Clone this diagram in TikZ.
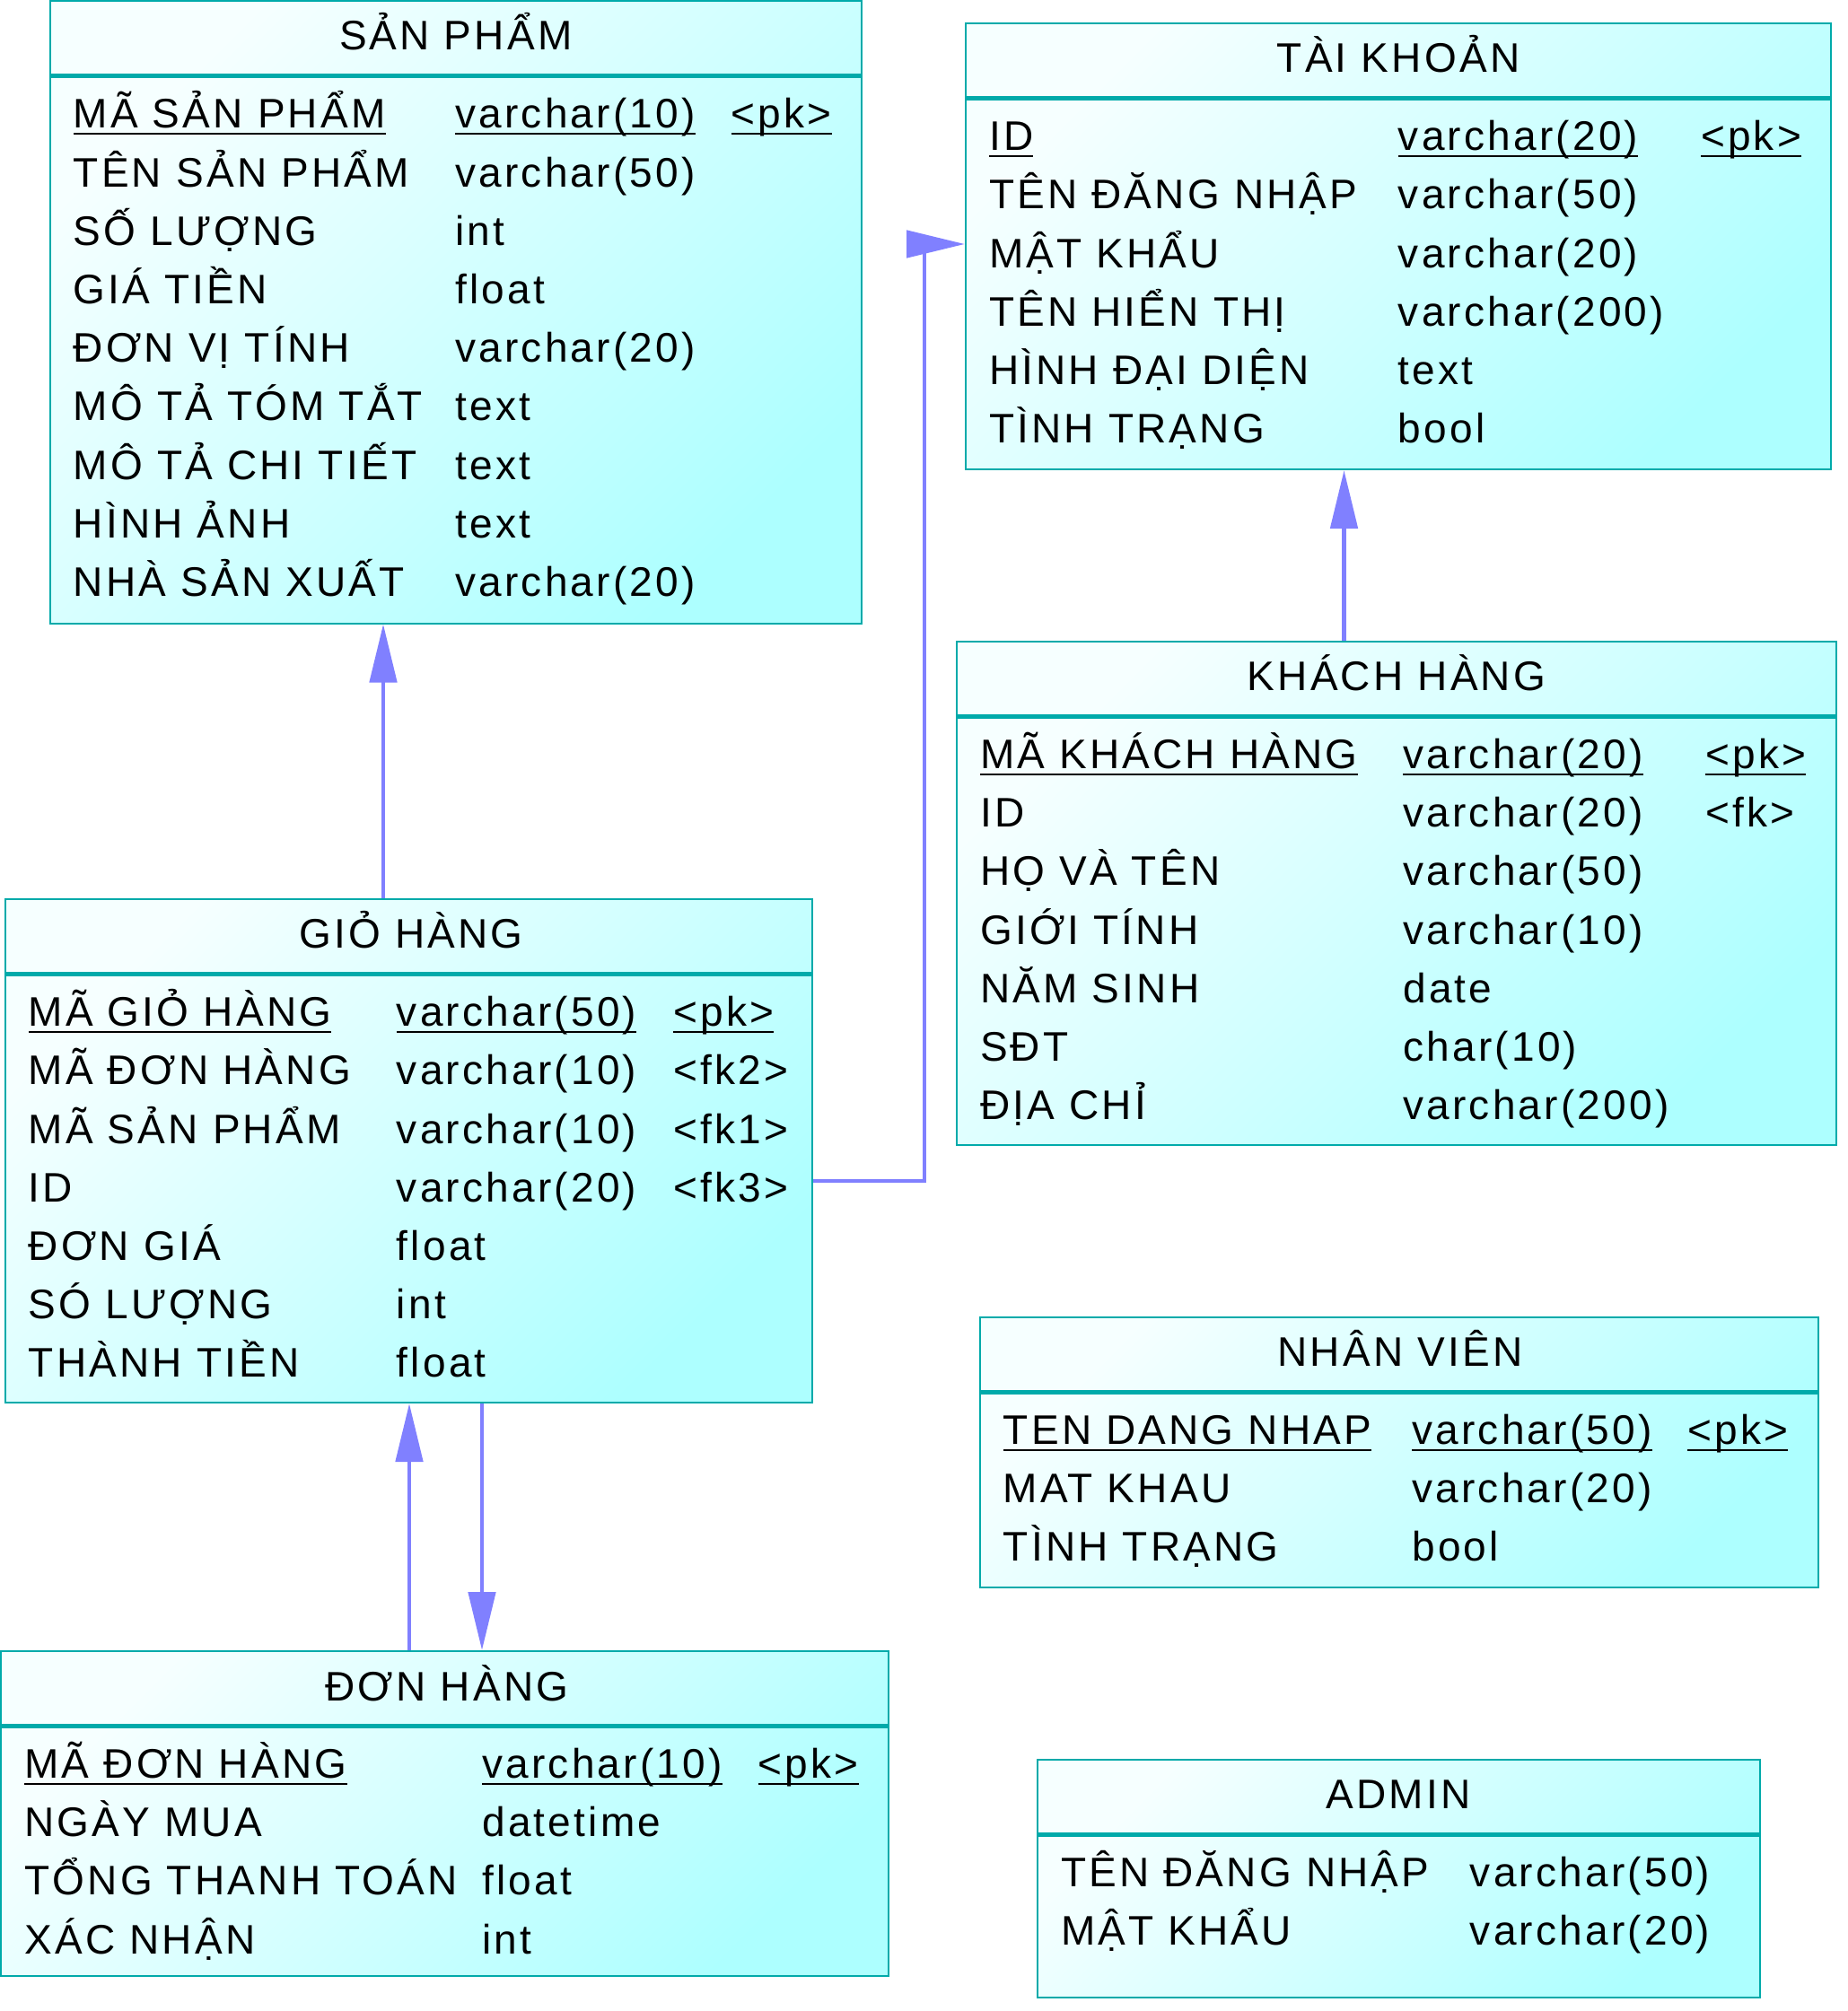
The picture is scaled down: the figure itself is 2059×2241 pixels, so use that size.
\documentclass[tikz,border=0pt]{standalone}
\usepackage{fontspec}
\setmainfont{Liberation Sans}[LetterSpace=7]
\usetikzlibrary{arrows.meta,fit,calc}
\definecolor{relc}{HTML}{8080FF}
\definecolor{bordc}{HTML}{00AAAA}
\definecolor{tlc}{HTML}{F6FFFF}
\definecolor{brc}{HTML}{ADFFFF}
\newcommand\pkul[1]{\setbox0\hbox{#1}\rlap{\rule[-3.5pt]{\wd0}{1pt}}\box0}
% name, baseline y, x1, x2, x3, col1, col2, col3
\newcommand\erow[8]{\node[fld] (#1n) at (#3,#2) {#6};\node[fld] (#1t) at (#4,#2) {#7};\node[fld] (#1k) at (#5,#2) {#8};}
% name, baseline y, x1, x2, col1, col2
\newcommand\frow[6]{\node[fld] (#1n) at (#3,#2) {#5};\node[fld] (#1t) at (#4,#2) {#6};}
\tikzset{
  tbl/.style={draw=bordc, line width=1pt, inner sep=0pt, top color=tlc, bottom color=brc, shading angle=45},
  divline/.style={draw=bordc, line width=2.5pt},
  fld/.style={anchor=base west, inner sep=0pt, font=\fontsize{23}{27}\selectfont},
  ttl/.style={anchor=base, inner sep=0pt, font=\fontsize{23}{27}\selectfont},
  rel/.style={draw=relc, line width=2.4pt},
  reltip/.style={draw=relc, line width=2.4pt, -{Triangle[length=32.5pt,width=15pt]}}
}
\begin{document}
\begin{tikzpicture}[x=0.5pt,y=-0.5pt]
\useasboundingbox (0,0) rectangle (2059,2241);
\fill[white] (0,0) rectangle (2059,2241);

% ---------- SAN PHAM ----------
\node[tbl, fit={(55.7,1) (960,694.5)}] (sp) {};
\draw[divline] (55.7,84.5) -- (960,84.5);
\node[ttl] (spT) at (507.8,56) {SẢN PHẨM};
\erow{sp1}{143}{81.4}{507}{814.5}{\pkul{MÃ SẢN PHẨM}}{\pkul{varchar(10)}}{\pkul{<pk>}}
\frow{sp2}{208.2}{81.4}{507}{TÊN SẢN PHẨM}{varchar(50)}
\frow{sp3}{273.4}{81.4}{507}{SỐ LƯỢNG}{int}
\frow{sp4}{338.6}{81.4}{507}{GIÁ TIỀN}{float}
\frow{sp5}{403.8}{81.4}{507}{ĐƠN VỊ TÍNH}{varchar(20)}
\frow{sp6}{469}{81.4}{507}{MÔ TẢ TÓM TẮT}{text}
\frow{sp7}{534.2}{81.4}{507}{MÔ TẢ CHI TIẾT}{text}
\frow{sp8}{599.4}{81.4}{507}{HÌNH ẢNH}{text}
\frow{sp9}{664.6}{81.4}{507}{NHÀ SẢN XUẤT}{varchar(20)}

% ---------- TAI KHOAN ----------
\node[tbl, fit={(1076,25.7) (2040,523)}] (tk) {};
\draw[divline] (1076,109.2) -- (2040,109.2);
\node[ttl] (tkT) at (1558,80.7) {TÀI KHOẢN};
\erow{tk1}{167.7}{1101.7}{1557.5}{1894.7}{\pkul{ID}}{\pkul{varchar(20)}}{\pkul{<pk>}}
\frow{tk2}{232.9}{1101.7}{1557.5}{TÊN ĐĂNG NHẬP}{varchar(50)}
\frow{tk3}{298.1}{1101.7}{1557.5}{MẬT KHẨU}{varchar(20)}
\frow{tk4}{363.3}{1101.7}{1557.5}{TÊN HIỂN THỊ}{varchar(200)}
\frow{tk5}{428.5}{1101.7}{1557.5}{HÌNH ĐẠI DIỆN}{text}
\frow{tk6}{493.7}{1101.7}{1557.5}{TÌNH TRẠNG}{bool}

% ---------- KHACH HANG ----------
\node[tbl, fit={(1066,714.5) (2046,1276)}] (kh) {};
\draw[divline] (1066,798) -- (2046,798);
\node[ttl] (khT) at (1556,769.5) {KHÁCH HÀNG};
\erow{kh1}{856.5}{1091.7}{1563}{1900}{\pkul{MÃ KHÁCH HÀNG}}{\pkul{varchar(20)}}{\pkul{<pk>}}
\erow{kh2}{921.7}{1091.7}{1563}{1900}{ID}{varchar(20)}{<fk>}
\frow{kh3}{986.9}{1091.7}{1563}{HỌ VÀ TÊN}{varchar(50)}
\frow{kh4}{1052.1}{1091.7}{1563}{GIỚI TÍNH}{varchar(10)}
\frow{kh5}{1117.3}{1091.7}{1563}{NĂM SINH}{date}
\frow{kh6}{1182.5}{1091.7}{1563}{SĐT}{char(10)}
\frow{kh7}{1247.7}{1091.7}{1563}{ĐỊA CHỈ}{varchar(200)}

% ---------- GIO HANG ----------
\node[tbl, fit={(5.7,1001.7) (904.5,1563)}] (gh) {};
\draw[divline] (5.7,1085.2) -- (904.5,1085.2);
\node[ttl] (ghT) at (458,1056.7) {GIỎ HÀNG};
\erow{gh1}{1143.7}{31.4}{441.5}{750}{\pkul{MÃ GIỎ HÀNG}}{\pkul{varchar(50)}}{\pkul{<pk>}}
\erow{gh2}{1208.9}{31.4}{441.5}{750}{MÃ ĐƠN HÀNG}{varchar(10)}{<fk2>}
\erow{gh3}{1274.1}{31.4}{441.5}{750}{MÃ SẢN PHẨM}{varchar(10)}{<fk1>}
\erow{gh4}{1339.3}{31.4}{441.5}{750}{ID}{varchar(20)}{<fk3>}
\frow{gh5}{1404.5}{31.4}{441.5}{ĐƠN GIÁ}{float}
\frow{gh6}{1469.7}{31.4}{441.5}{SÓ LƯỢNG}{int}
\frow{gh7}{1534.9}{31.4}{441.5}{THÀNH TIỀN}{float}

% ---------- DON HANG ----------
\node[tbl, fit={(1.4,1840) (990,2202)}] (dh) {};
\draw[divline] (1.4,1923.5) -- (990,1923.5);
\node[ttl] (dhT) at (498,1895) {ĐƠN HÀNG};
\erow{dh1}{1981.5}{27}{537}{844.5}{\pkul{MÃ ĐƠN HÀNG}}{\pkul{varchar(10)}}{\pkul{<pk>}}
\frow{dh2}{2046.7}{27}{537}{NGÀY MUA}{datetime}
\frow{dh3}{2111.9}{27}{537}{TỔNG THANH TOÁN}{float}
\frow{dh4}{2177.1}{27}{537}{XÁC NHẬN}{int}

% ---------- NHAN VIEN ----------
\node[tbl, fit={(1091.7,1467.5) (2026,1769)}] (nv) {};
\draw[divline] (1091.7,1551) -- (2026,1551);
\node[ttl] (nvT) at (1560,1522.5) {NHÂN VIÊN};
\erow{nv1}{1609.5}{1117.4}{1573}{1880}{\pkul{TEN DANG NHAP}}{\pkul{varchar(50)}}{\pkul{<pk>}}
\frow{nv2}{1674.7}{1117.4}{1573}{MAT KHAU}{varchar(20)}
\frow{nv3}{1739.9}{1117.4}{1573}{TÌNH TRẠNG}{bool}

% ---------- ADMIN ----------
\node[tbl, fit={(1156,1960.5) (1960.5,2226)}] (ad) {};
\draw[divline] (1156,2044) -- (1960.5,2044);
\node[ttl] (adT) at (1558.2,2015.5) {ADMIN};
\frow{ad1}{2102.5}{1181.7}{1637.5}{TÊN ĐĂNG NHẬP}{varchar(50)}
\frow{ad2}{2167.7}{1181.7}{1637.5}{MẬT KHẨU}{varchar(20)}

% ---------- connectors ----------
\coordinate (xa) at (427,0);
\coordinate (xb) at (1497.5,0);
\coordinate (xc) at (456,0);
\coordinate (xd) at (537,0);
\coordinate (gy) at (0,1316);
\coordinate (bend) at (1030,272);

\draw[reltip] (gh.north -| xa) -- (sp.south -| xa);
\draw[reltip] (kh.north -| xb) -- (tk.south -| xb);
\draw[reltip] (dh.north -| xc) -- (gh.south -| xc);
\draw[reltip] (gh.south -| xd) -- (dh.north -| xd);
\draw[rel] (gh.east |- gy) -| (bend);
\draw[reltip] ($(tk.west |- bend)+(-65,0)$) -- (tk.west |- bend);
\end{tikzpicture}
\end{document}
